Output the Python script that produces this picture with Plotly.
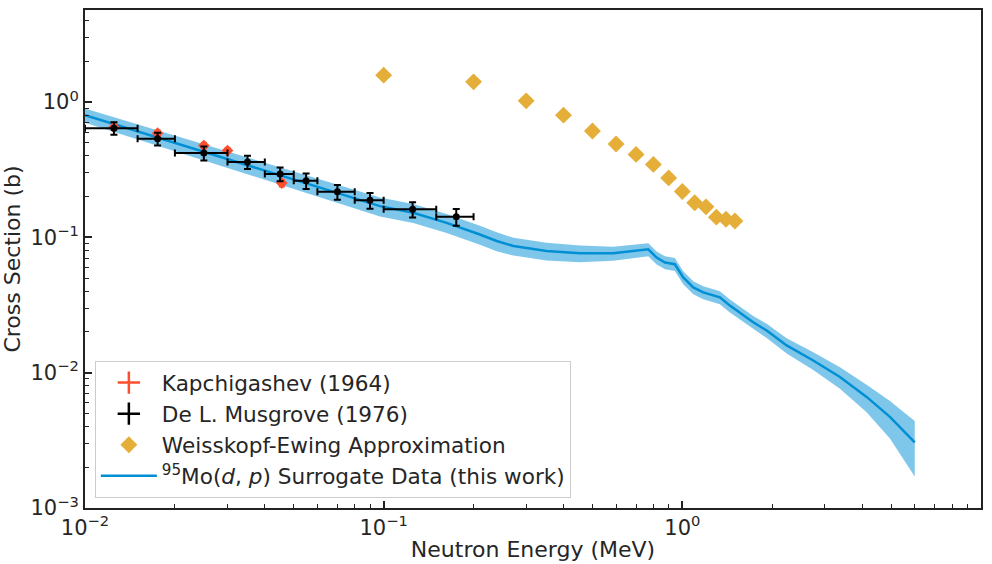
import plotly.graph_objects as go

# ---- Data ----
# Surrogate data (95Mo(d,p)) central curve and relative uncertainty
surr_E = [0.01, 0.0972, 0.1256, 0.1625, 0.210, 0.239, 0.272, 0.351, 0.454, 0.587,
          0.769, 0.820, 0.875, 0.944, 1.007, 1.088, 1.175, 1.336, 1.443, 1.727,
          1.916, 2.235, 2.744, 3.371, 4.140, 4.955, 6.0]
surr_xs = [0.80, 0.170, 0.152, 0.128, 0.105, 0.094, 0.0863, 0.0793, 0.0762, 0.0762,
           0.0816, 0.0709, 0.0652, 0.0633, 0.0505, 0.0427, 0.0392, 0.0360, 0.0313, 0.0236,
           0.0205, 0.0159, 0.0123, 0.00929, 0.00662, 0.00472, 0.00305]
surr_rel = [0.12, 0.16, 0.16, 0.16, 0.16, 0.16, 0.15, 0.15, 0.14, 0.12,
            0.11, 0.11, 0.11, 0.11, 0.11, 0.11, 0.11, 0.11, 0.11, 0.11,
            0.12, 0.13, 0.15, 0.18, 0.23, 0.31, 0.44]

# De L. Musgrove (1976)
mus_E = [0.0125, 0.0175, 0.025, 0.035, 0.045, 0.055, 0.07, 0.09, 0.125, 0.175]
mus_dE = [0.0025, 0.0025, 0.005, 0.005, 0.005, 0.005, 0.01, 0.01, 0.025, 0.025]
mus_xs = [0.640, 0.535, 0.420, 0.360, 0.294, 0.262, 0.217, 0.188, 0.161, 0.142]
mus_dxs = [0.068, 0.057, 0.050, 0.040, 0.034, 0.034, 0.027, 0.025, 0.021, 0.020]

# Kapchigashev (1964)
kap_E = [0.0125, 0.0175, 0.025, 0.030, 0.0456]
kap_xs = [0.652, 0.589, 0.477, 0.438, 0.252]
kap_dxs = [0.03, 0.03, 0.025, 0.02, 0.015]

# Weisskopf-Ewing approximation
we_E = [0.1, 0.2, 0.3, 0.4, 0.5, 0.6, 0.7, 0.8, 0.9, 1.0, 1.1, 1.2, 1.3, 1.4, 1.5]
we_xs = [1.58, 1.41, 1.02, 0.80, 0.61, 0.49, 0.41, 0.346, 0.275, 0.218, 0.180, 0.168, 0.141, 0.136, 0.132]

x_tickvals = [0.01, 0.1, 1, 10]
x_ticktext = ["10<sup>−2</sup>", "10<sup>−1</sup>", "10<sup>0</sup>", "10<sup>1</sup>"]
y_tickvals = [0.001, 0.01, 0.1, 1]
y_ticktext = ["10<sup>−3</sup>", "10<sup>−2</sup>", "10<sup>−1</sup>", "10<sup>0</sup>"]

BLUE = "#008fd5"
RED = "#fc4f30"
GOLD = "#e5ae38"
FONT = "DejaVu Sans"

upper = [v * (1 + r) for v, r in zip(surr_xs, surr_rel)]
lower = [v * (1 - r) for v, r in zip(surr_xs, surr_rel)]

fig = go.Figure()

# band
fig.add_trace(go.Scatter(x=surr_E, y=lower, mode="lines", line=dict(width=0, color=BLUE),
                         showlegend=False, hoverinfo="skip"))
fig.add_trace(go.Scatter(x=surr_E, y=upper, mode="lines", line=dict(width=0, color=BLUE),
                         fill="tonexty", fillcolor="rgba(0,143,213,0.5)",
                         showlegend=False, hoverinfo="skip"))
# central line
fig.add_trace(go.Scatter(x=surr_E, y=surr_xs, mode="lines", line=dict(width=2.5, color=BLUE),
                         name="<sup>95</sup>Mo(<i>d</i>, <i>p</i>) Surrogate Data (this work)",
                         legendrank=4))

# Kapchigashev
fig.add_trace(go.Scatter(x=kap_E, y=kap_xs, mode="markers",
                         marker=dict(symbol="diamond", size=9, color=RED),
                         error_y=dict(type="data", array=kap_dxs, color=RED, thickness=1.5, width=3),
                         showlegend=False))
# Musgrove
fig.add_trace(go.Scatter(x=mus_E, y=mus_xs, mode="markers",
                         marker=dict(symbol="circle", size=7, color="black"),
                         error_x=dict(type="data", array=mus_dE, color="black", thickness=2, width=3.5),
                         error_y=dict(type="data", array=mus_dxs, color="black", thickness=2, width=3.5),
                         showlegend=False))
# Weisskopf-Ewing
fig.add_trace(go.Scatter(x=we_E, y=we_xs, mode="markers",
                         marker=dict(symbol="diamond", size=13, color=GOLD),
                         name="Weisskopf-Ewing Approximation", legendrank=3))

# legend-only proxies for error-bar series
fig.add_trace(go.Scatter(x=[None], y=[None], mode="markers",
                         marker=dict(symbol="cross-thin", size=16, color=RED,
                                     line=dict(width=2.5, color=RED)),
                         name="Kapchigashev (1964)", legendrank=1))
fig.add_trace(go.Scatter(x=[None], y=[None], mode="markers",
                         marker=dict(symbol="cross-thin", size=16, color="black",
                                     line=dict(width=2.5, color="black")),
                         name="De L. Musgrove (1976)", legendrank=2))

axis_common = dict(
    type="log", showgrid=False, zeroline=False, automargin=False,
    showline=True, linecolor="#222222", linewidth=2, mirror=True,
    ticks="inside", ticklen=7, tickwidth=1.5, tickcolor="#222222",
    tickfont=dict(family=FONT, size=21, color="#262626"),
    minor=dict(ticks="inside", ticklen=4, tickwidth=1, tickcolor="#222222", dtick="D1", showgrid=False),
)

fig.update_xaxes(**axis_common, range=[-2, 1], tickvals=x_tickvals, ticktext=x_ticktext,
                 title=dict(text="Neutron Energy (MeV)", font=dict(family=FONT, size=22, color="#262626"),
                            standoff=2))
fig.update_yaxes(**axis_common, range=[-3, 0.68], tickvals=y_tickvals, ticktext=y_ticktext,
                 title=dict(text="Cross Section (b)", font=dict(family=FONT, size=22, color="#262626"),
                            standoff=4))

fig.update_layout(
    width=992, height=564,
    margin=dict(l=85, r=11, t=10, b=56),
    paper_bgcolor="white", plot_bgcolor="white",
    font=dict(family=FONT, size=21, color="#262626"),
    legend=dict(x=0.011, y=0.02, xanchor="left", yanchor="bottom", traceorder="normal",
                itemwidth=56,
                bgcolor="rgba(255,255,255,0.85)", bordercolor="#cccccc", borderwidth=1,
                font=dict(family=FONT, size=21.6, color="#262626")),
    showlegend=True,
)

fig.write_html("out.html", config={"displayModeBar": False},
               post_script="document.body.style.margin='0';document.body.style.overflow='hidden';")
